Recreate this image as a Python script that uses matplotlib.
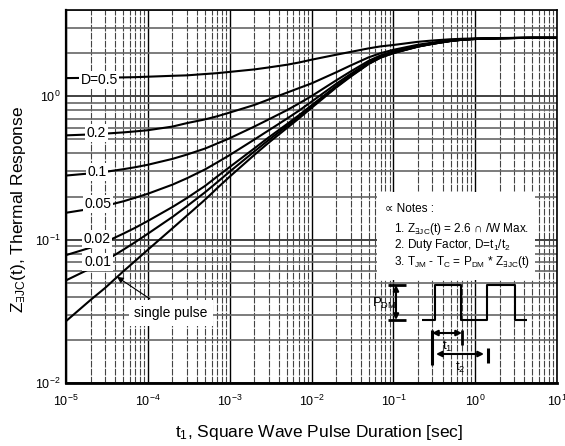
import matplotlib
matplotlib.use("Agg")
import matplotlib.pyplot as plt
from matplotlib.patches import Rectangle
from matplotlib.lines import Line2D

plt.rcParams['font.family'] = ['Liberation Sans', 'DejaVu Sans']
plt.rcParams['mathtext.fontset'] = 'custom'
plt.rcParams['mathtext.rm'] = 'Liberation Sans'
plt.rcParams['mathtext.it'] = 'Liberation Sans'
plt.rcParams['mathtext.default'] = 'regular'

# ---- data ----
t = [1e-5, 2e-5, 3e-5, 5e-5, 7e-5,
     1e-4, 2e-4, 3e-4, 5e-4, 7e-4,
     1e-3, 2e-3, 3e-3, 5e-3, 7e-3,
     1e-2, 2e-2, 3e-2, 5e-2, 7e-2,
     1e-1, 2e-1, 3e-1, 5e-1, 7e-1,
     1, 2, 3, 5, 7, 10]
z_d05 = [1.34, 1.345, 1.35, 1.355, 1.36,
         1.37, 1.39, 1.40, 1.43, 1.45,
         1.48, 1.54, 1.59, 1.66, 1.72,
         1.80, 1.95, 2.04, 2.16, 2.23,
         2.28, 2.40, 2.45, 2.50, 2.52,
         2.535, 2.55, 2.555, 2.56, 2.56, 2.56]
z_d02 = [0.534, 0.542, 0.549, 0.56, 0.569,
         0.58, 0.615, 0.65, 0.69, 0.725,
         0.77, 0.87, 0.95, 1.06, 1.14,
         1.23, 1.47, 1.64, 1.87, 2.00,
         2.11, 2.29, 2.37, 2.456, 2.496,
         2.52, 2.544, 2.552, 2.56, 2.56, 2.56]
z_d01 = [0.280, 0.290, 0.297, 0.31, 0.32,
         0.333, 0.366, 0.392, 0.432, 0.468,
         0.51, 0.615, 0.69, 0.80, 0.89,
         1.003, 1.291, 1.489, 1.768, 1.930,
         2.056, 2.254, 2.344, 2.443, 2.488,
         2.515, 2.542, 2.551, 2.56, 2.56, 2.56]
z_d005 = [0.154, 0.164, 0.172, 0.185, 0.196,
          0.209, 0.242, 0.268, 0.309, 0.345,
          0.389, 0.499, 0.579, 0.698, 0.793,
          0.917, 1.221, 1.430, 1.724, 1.895,
          2.028, 2.237, 2.332, 2.437, 2.484,
          2.513, 2.541, 2.551, 2.56, 2.56, 2.56]
z_d002 = [0.078, 0.088, 0.096, 0.110, 0.121,
          0.135, 0.169, 0.195, 0.237, 0.275,
          0.321, 0.433, 0.517, 0.639, 0.737,
          0.865, 1.178, 1.394, 1.698, 1.874,
          2.011, 2.227, 2.325, 2.433, 2.482,
          2.511, 2.540, 2.550, 2.56, 2.56, 2.56]
z_d001 = [0.052, 0.063, 0.071, 0.085, 0.096,
          0.110, 0.144, 0.171, 0.214, 0.251,
          0.298, 0.412, 0.496, 0.620, 0.719,
          0.847, 1.164, 1.382, 1.689, 1.867,
          2.006, 2.223, 2.322, 2.431, 2.481,
          2.511, 2.540, 2.550, 2.56, 2.56, 2.56]
z_single = [0.027, 0.038, 0.046, 0.060, 0.071,
            0.085, 0.12, 0.147, 0.19, 0.228,
            0.275, 0.39, 0.475, 0.60, 0.70,
            0.83, 1.15, 1.37, 1.68, 1.86,
            2.00, 2.22, 2.32, 2.43, 2.48,
            2.51, 2.54, 2.55, 2.56, 2.56, 2.56]
series = [z_d05, z_d02, z_d01, z_d005, z_d002, z_d001, z_single]
curve_labels = ["D=0.5", "0.2", "0.1", "0.05", "0.02", "0.01"]

fig = plt.figure(figsize=(5.65, 4.46), dpi=100)
L, R, B, T = 66, 557, 383, 10
W, H = 565, 446
ax = fig.add_axes([L / W, 1 - B / H, (R - L) / W, (B - T) / H])
ax.set_xscale('log')
ax.set_yscale('log')
ax.set_xlim(1e-5, 10)
ax.set_ylim(1e-2, 4)

# grid
ax.grid(True, which='major', axis='x', color='black', lw=1.0)
ax.grid(True, which='minor', axis='x', color='#444444', lw=0.8, ls=(0, (6, 1.2)))
ax.grid(True, which='major', axis='y', color='#333333', lw=1.3)
ax.grid(True, which='minor', axis='y', color='#666666', lw=1.2)
ax.set_axisbelow(True)

for s in series:
    ax.plot(t, s, color='black', lw=1.5, zorder=3)

for sp in ax.spines.values():
    sp.set_linewidth(1.2)
ax.spines['bottom'].set_linewidth(2.0)
ax.spines['left'].set_linewidth(1.6)

ax.tick_params(which='both', length=0, labelsize=9, pad=8)
ax.set_xticks([1e-5, 1e-4, 1e-3, 1e-2, 1e-1, 1, 10])
ax.set_xticklabels([r'10$^{-5}$', r'10$^{-4}$', r'10$^{-3}$', r'10$^{-2}$',
                    r'10$^{-1}$', r'10$^{0}$', r'10$^{1}$'])
ax.set_yticks([1e-2, 1e-1, 1])
ax.set_yticklabels([r'10$^{-2}$', r'10$^{-1}$', r'10$^{0}$'])
ax.tick_params(axis='y', pad=4)


def fx(px):
    return (px - L) / (R - L)


def fy(py):
    return (B - py) / (B - T)


ax.set_xlabel(r't$_1$, Square Wave Pulse Duration [sec]', fontsize=12.5, va='center')
ax.xaxis.set_label_coords(fx(319), fy(432))
ax.set_ylabel(r'Z$_{∃JC}$(t), Thermal Response', fontsize=12.5, va='center')
ax.yaxis.set_label_coords(fx(19), fy(210))

# curve labels
label_pos = [(99, 80), (96.5, 133), (97, 172), (98, 204), (97, 239), (97.5, 262)]
for lab, (px, py) in zip(curve_labels, label_pos):
    ax.text(fx(px), fy(py), lab, transform=ax.transAxes, fontsize=10,
            ha='center', va='center', zorder=5,
            bbox=dict(facecolor='white', edgecolor='none', pad=1.2))

# single pulse annotation
ax.annotate('single pulse', xy=(4.2e-5, 0.055), xycoords='data',
            xytext=(fx(171), fy(313)), textcoords='axes fraction',
            fontsize=10, ha='center', va='center', zorder=6,
            bbox=dict(facecolor='white', edgecolor='none', pad=4),
            arrowprops=dict(arrowstyle='-|>', color='black', lw=0.8,
                            mutation_scale=9, shrinkA=2, shrinkB=0))

# notes box
ax.add_patch(Rectangle((fx(377), fy(280)), fx(535) - fx(377), fy(192) - fy(280),
                       transform=ax.transAxes, facecolor='white', edgecolor='none',
                       zorder=4))
ax.text(fx(385), fy(209), '∝ Notes :', transform=ax.transAxes, fontsize=8.5,
        ha='left', va='center', zorder=5)
notes = [r'1. Z$_{∃JC}$(t) = 2.6 ∩ /W Max.',
         r'2. Duty Factor, D=t$_1$/t$_2$',
         r'3. T$_{JM}$ - T$_C$ = P$_{DM}$ * Z$_{∃JC}$(t)']
for txt, py in zip(notes, [229, 245, 262]):
    ax.text(fx(394), fy(py), txt, transform=ax.transAxes, fontsize=8.5,
            ha='left', va='center', zorder=5)


def seg(xs, ys, lw=1.5):
    ax.add_line(Line2D([fx(v) for v in xs], [fy(v) for v in ys],
                       transform=ax.transAxes, color='black', lw=lw, zorder=6,
                       solid_capstyle='butt'))


# pulse waveform
seg([422, 435, 435, 461, 461, 487, 487, 515, 515, 527],
    [320, 320, 285, 285, 320, 320, 285, 285, 320, 320])
# P_DM bars and arrow
seg([388, 406], [285, 285], lw=2.0)
seg([388, 406], [320, 320], lw=2.0)
ax.annotate('', xy=(fx(396), fy(285)), xytext=(fx(396), fy(320)),
            xycoords='axes fraction', textcoords='axes fraction', zorder=6,
            arrowprops=dict(arrowstyle='<|-|>', color='black', lw=1.5,
                            mutation_scale=8, shrinkA=0, shrinkB=0))
ax.text(fx(397), fy(303), r'P$_{DM}$', transform=ax.transAxes, fontsize=9.5,
        ha='right', va='center', zorder=6)
# t1, t2 markers
seg([432, 432], [330, 365], lw=2.2)
seg([462, 462], [330, 345], lw=2.0)
seg([488, 488], [348, 363], lw=2.2)
ax.annotate('', xy=(fx(462), fy(333)), xytext=(fx(432), fy(333)),
            xycoords='axes fraction', textcoords='axes fraction', zorder=6,
            arrowprops=dict(arrowstyle='<|-|>', color='black', lw=1.5,
                            mutation_scale=8, shrinkA=0, shrinkB=0))
ax.annotate('', xy=(fx(484), fy(354)), xytext=(fx(436), fy(354)),
            xycoords='axes fraction', textcoords='axes fraction', zorder=6,
            arrowprops=dict(arrowstyle='<|-|>', color='black', lw=1.5,
                            mutation_scale=8, shrinkA=0, shrinkB=0))
ax.text(fx(447), fy(346), r't$_1$', transform=ax.transAxes, fontsize=9.5,
        ha='center', va='center', zorder=6)
ax.text(fx(460), fy(367), r't$_2$', transform=ax.transAxes, fontsize=9.5,
        ha='center', va='center', zorder=6)

fig.savefig('out.png', dpi=100)
